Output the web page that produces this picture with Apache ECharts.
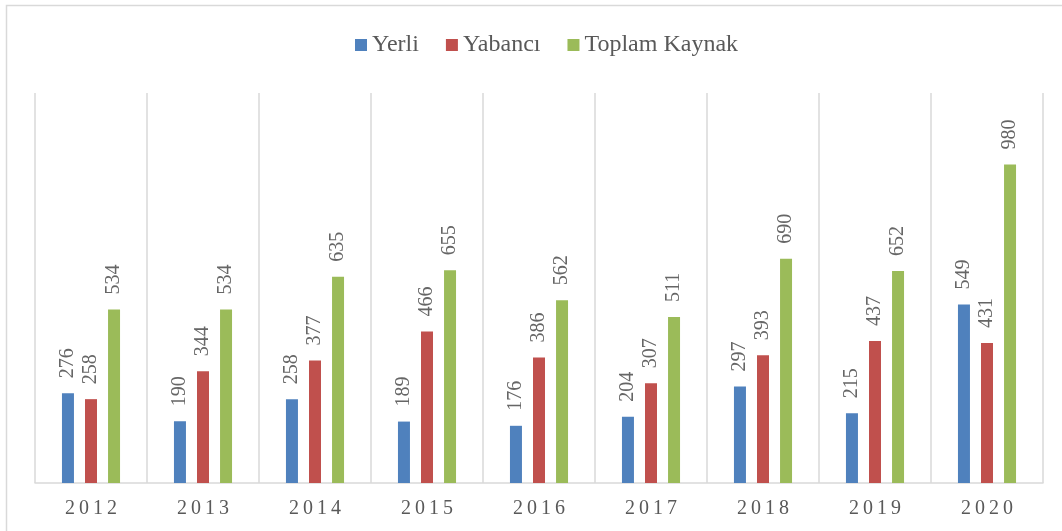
<!DOCTYPE html>
<html>
<head>
<meta charset="utf-8">
<script src="https://cdn.jsdelivr.net/npm/echarts@6/dist/echarts.min.js"></script>
<style>
  html, body { margin: 0; padding: 0; background: #fff; }
  #main { width: 1062px; height: 531px; }
</style>
</head>
<body>
<div id="main"></div>
<script>
// veriler
var years = ['2012', '2013', '2014', '2015', '2016', '2017', '2018', '2019', '2020'];
var yerli = [276, 190, 258, 189, 176, 204, 297, 215, 549];
var yabanci = [258, 344, 377, 466, 386, 307, 393, 437, 431];
var toplam = [534, 534, 635, 655, 562, 511, 690, 652, 980];

var serif = '"Liberation Serif", "Times New Roman", serif';
var textColor = '#595959';

var labelOpt = {
    show: true,
    position: 'top',
    rotate: 90,
    align: 'left',
    verticalAlign: 'middle',
    distance: 15,
    fontFamily: serif,
    fontSize: 20,
    color: '#666666'
};

function makeSeries(name, data, color) {
    return {
        name: name,
        type: 'bar',
        data: data,
        barWidth: 12,
        barGap: '92%',
        itemStyle: {color: color},
        label: labelOpt
    };
}

var myChart = echarts.init(document.getElementById('main'));
myChart.setOption({
    animation: false,
    graphic: [{
        type: 'rect',
        shape: {x: 6.5, y: 5.5, width: 1070, height: 540},
        style: {fill: 'none', stroke: '#d9d9d9', lineWidth: 1.5},
        silent: true
    }],
    legend: {
        top: 28,
        left: 350,
        itemWidth: 12,
        itemHeight: 12,
        itemGap: 27,
        icon: 'rect',
        textStyle: {fontFamily: serif, fontSize: 24, color: textColor},
        data: ['Yerli', 'Yabancı', 'Toplam Kaynak']
    },
    grid: {left: 35, right: 19, top: 93, bottom: 48, containLabel: false},
    xAxis: {
        type: 'category',
        data: years,
        axisTick: {show: false},
        axisLine: {lineStyle: {color: '#d9d9d9', width: 1.5}},
        splitLine: {show: true, lineStyle: {color: '#d9d9d9', width: 1.5}},
        axisLabel: {
            margin: 16,
            fontFamily: serif,
            fontSize: 20,
            color: textColor,
            formatter: function (v) { return v.split('').join('\u2009'); }
        }
    },
    yAxis: {
        type: 'value',
        min: 0,
        max: 1200,
        interval: 200,
        show: false,
        splitLine: {show: false}
    },
    series: [
        makeSeries('Yerli', yerli, '#4F81BD'),
        makeSeries('Yabancı', yabanci, '#C0504D'),
        makeSeries('Toplam Kaynak', toplam, '#9BBB59')
    ]
});
</script>
</body>
</html>
